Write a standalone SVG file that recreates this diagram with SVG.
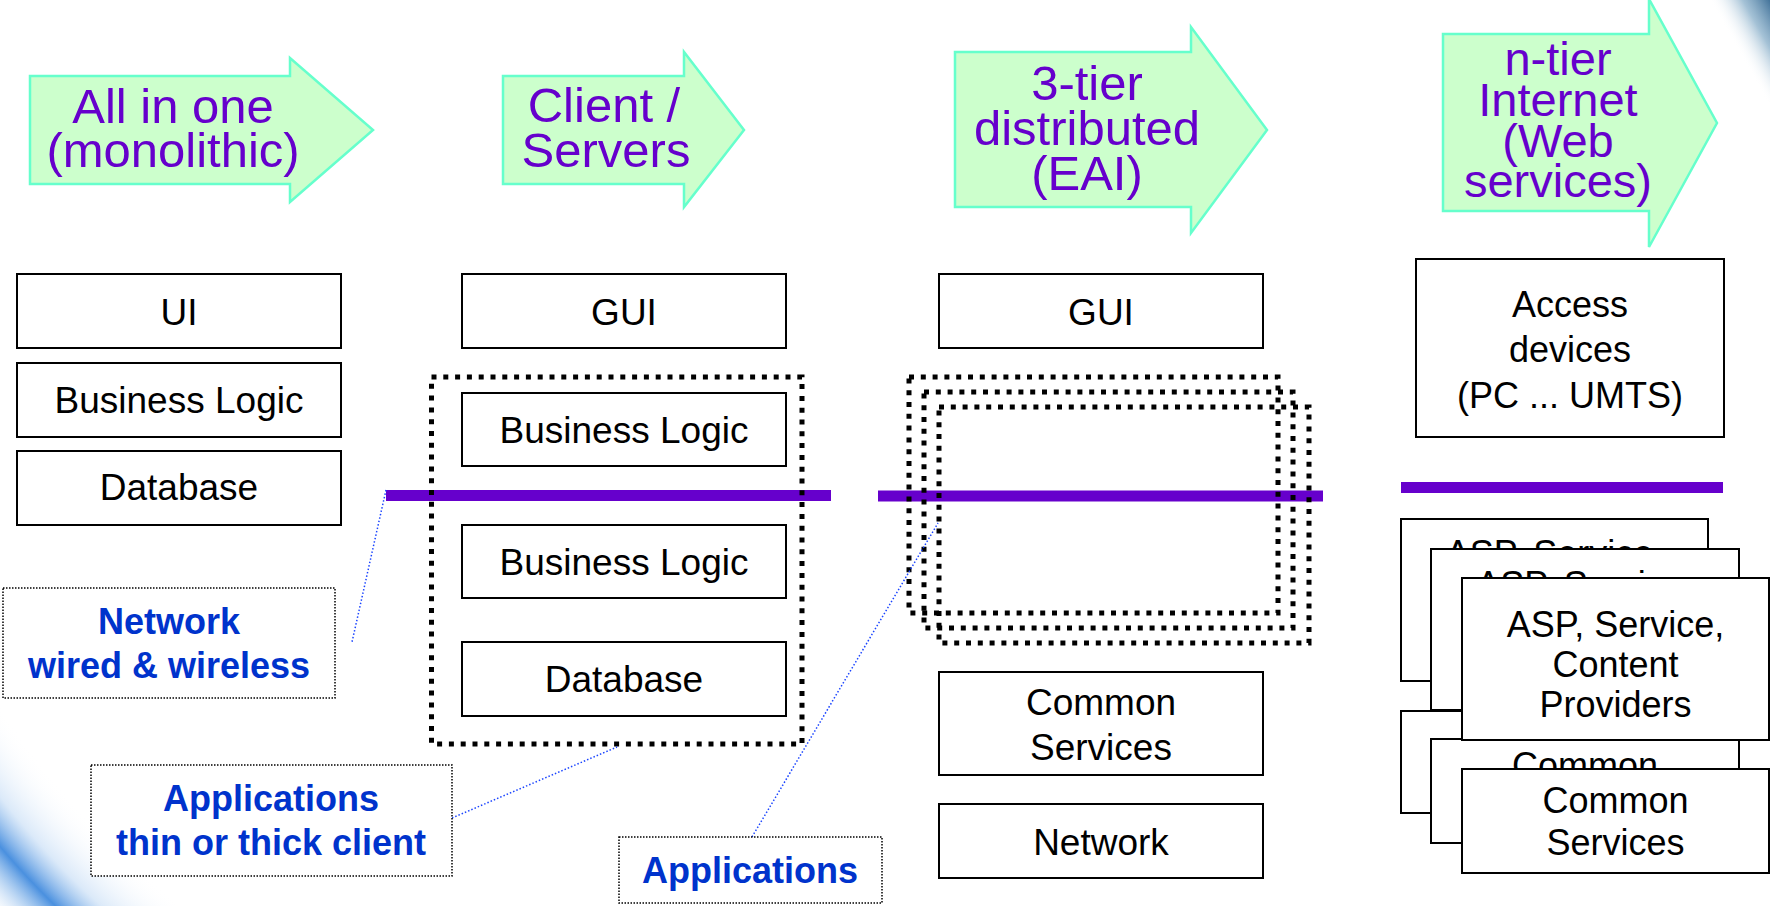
<svg xmlns="http://www.w3.org/2000/svg" width="1770" height="906" viewBox="0 0 1770 906">
  <defs>
    <radialGradient id="swooshBL" gradientUnits="userSpaceOnUse" cx="700" cy="250" r="960">
      <stop offset="0" stop-color="#ffffff" stop-opacity="0"/>
      <stop offset="0.87" stop-color="#ffffff" stop-opacity="0"/>
      <stop offset="0.925" stop-color="#c3dbf5" stop-opacity="0.6"/>
      <stop offset="0.958" stop-color="#4a90df"/>
      <stop offset="0.98" stop-color="#9dc4ee" stop-opacity="0.7"/>
      <stop offset="1" stop-color="#e6f0fb" stop-opacity="0.4"/>
    </radialGradient>
    <linearGradient id="swooshTR" gradientUnits="userSpaceOnUse" x1="1770" y1="0" x2="1724" y2="26">
      <stop offset="0" stop-color="#43739a"/>
      <stop offset="0.45" stop-color="#86adc8" stop-opacity="0.75"/>
      <stop offset="1" stop-color="#ffffff" stop-opacity="0"/>
    </linearGradient>
    <style>
      .arrow { fill: #ccffcc; stroke: #66ffcc; stroke-width: 2.5; stroke-linejoin: miter; }
      .atxt { font-family: "Liberation Sans", Arial, sans-serif; font-size: 49px; fill: #6600cc; text-anchor: middle; }
      .box { fill: #ffffff; stroke: #000000; stroke-width: 2; }
      .btxt { font-family: "Liberation Sans", Arial, sans-serif; font-size: 37px; fill: #000000; text-anchor: middle; }
      .stxt { font-family: "Liberation Sans", Arial, sans-serif; font-size: 36px; fill: #000000; text-anchor: middle; }
      .group { fill: none; stroke: #000000; stroke-width: 5; stroke-dasharray: 5 6.8; }
      .net { stroke: #6600cc; stroke-width: 11; fill: none; }
      .note { fill: #ffffff; stroke: #000000; stroke-width: 1.5; stroke-dasharray: 1.5 1.5; }
      .ntxt { font-family: "Liberation Sans", Arial, sans-serif; font-size: 36px; font-weight: bold; fill: #0033cc; text-anchor: middle; }
      .link { stroke: #1a44ff; stroke-width: 1.5; stroke-dasharray: 1.5 2; fill: none; }
    </style>
  </defs>

  <rect width="1770" height="906" fill="#ffffff"/>

  <!-- corner decorations -->
  <rect x="0" y="620" width="240" height="286" fill="url(#swooshBL)"/>
  <path d="M1690,0 L1770,0 L1770,130 Z" fill="url(#swooshTR)"/>

  <!-- evolution arrows -->
  <g id="arrow-monolithic">
    <polygon class="arrow" points="30,76 290,76 290,58 373,130 290,202 290,184 30,184"/>
    <text class="atxt" x="173" y="123">All in one</text>
    <text class="atxt" x="173" y="167">(monolithic)</text>
  </g>
  <g id="arrow-client-server">
    <polygon class="arrow" points="503,76 684,76 684,52 744,130 684,207 684,184 503,184"/>
    <text class="atxt" x="604" y="122">Client /</text>
    <text class="atxt" x="606" y="167">Servers</text>
  </g>
  <g id="arrow-3tier">
    <polygon class="arrow" points="955,52 1191,52 1191,27 1267,130 1191,233 1191,207 955,207"/>
    <text class="atxt" x="1087" y="100">3-tier</text>
    <text class="atxt" x="1087" y="145">distributed</text>
    <text class="atxt" x="1087" y="190">(EAI)</text>
  </g>
  <g id="arrow-ntier">
    <polygon class="arrow" points="1443,34 1649,34 1649,-1 1717,123 1649,247 1649,211 1443,211"/>
    <text class="atxt" x="1558" y="75" style="font-size:47px">n-tier</text>
    <text class="atxt" x="1558" y="116" style="font-size:47px">Internet</text>
    <text class="atxt" x="1558" y="157" style="font-size:47px">(Web</text>
    <text class="atxt" x="1558" y="197" style="font-size:47px">services)</text>
  </g>

  <!-- network bars -->
  <g id="network-bars">
    <line class="net" x1="386" y1="495.5" x2="831" y2="495.5"/>
    <line class="net" x1="878" y1="496" x2="1323" y2="496"/>
    <line class="net" x1="1401" y1="487.5" x2="1723" y2="487.5"/>
  </g>

  <!-- column 1: monolithic -->
  <g id="col1-ui">
    <rect class="box" x="17" y="274" width="324" height="74"/>
    <text class="btxt" x="179" y="325">UI</text>
  </g>
  <g id="col1-logic">
    <rect class="box" x="17" y="363" width="324" height="74"/>
    <text class="btxt" x="179" y="413">Business Logic</text>
  </g>
  <g id="col1-db">
    <rect class="box" x="17" y="451" width="324" height="74"/>
    <text class="btxt" x="179" y="500">Database</text>
  </g>

  <!-- column 2: client / server -->
  <g id="col2-gui">
    <rect class="box" x="462" y="274" width="324" height="74"/>
    <text class="btxt" x="624" y="325">GUI</text>
  </g>
  <g id="col2-logic-client">
    <rect class="box" x="462" y="393" width="324" height="73"/>
    <text class="btxt" x="624" y="443">Business Logic</text>
  </g>
  <g id="col2-logic-server">
    <rect class="box" x="462" y="525" width="324" height="73"/>
    <text class="btxt" x="624" y="575">Business Logic</text>
  </g>
  <g id="col2-db">
    <rect class="box" x="462" y="642" width="324" height="74"/>
    <text class="btxt" x="624" y="692">Database</text>
  </g>
  <g id="col2-apps">
    <rect class="group" x="431.5" y="377" width="370.5" height="367"/>
  </g>

  <!-- column 3: 3-tier -->
  <g id="col3-gui">
    <rect class="box" x="939" y="274" width="324" height="74"/>
    <text class="btxt" x="1101" y="325">GUI</text>
  </g>
  <g id="col3-apps">
    <rect class="group" x="909" y="377" width="369" height="236"/>
    <rect class="group" x="924" y="392" width="369" height="236"/>
    <rect class="group" x="939" y="407" width="370" height="236"/>
  </g>
  <g id="col3-common">
    <rect class="box" x="939" y="672" width="324" height="103"/>
    <text class="btxt" x="1101" y="715">Common</text>
    <text class="btxt" x="1101" y="760">Services</text>
  </g>
  <g id="col3-network">
    <rect class="box" x="939" y="804" width="324" height="74"/>
    <text class="btxt" x="1101" y="855">Network</text>
  </g>

  <!-- column 4: n-tier -->
  <g id="col4-access">
    <rect class="box" x="1416" y="259" width="308" height="178"/>
    <text class="stxt" x="1570" y="317">Access</text>
    <text class="stxt" x="1570" y="362">devices</text>
    <text class="stxt" x="1570" y="408">(PC ... UMTS)</text>
  </g>
  <g id="col4-providers-1">
    <rect class="box" x="1401" y="519" width="307" height="162"/>
    <text class="stxt" x="1554.5" y="566">ASP, Service,</text>
    <text class="stxt" x="1554.5" y="606">Content</text>
    <text class="stxt" x="1554.5" y="646">Providers</text>
  </g>
  <g id="col4-providers-2">
    <rect class="box" x="1431" y="549" width="308" height="161"/>
    <text class="stxt" x="1585" y="597">ASP, Service,</text>
    <text class="stxt" x="1585" y="637">Content</text>
    <text class="stxt" x="1585" y="677">Providers</text>
  </g>
  <g id="col4-common-1">
    <rect class="box" x="1401" y="711" width="307" height="102"/>
    <text class="stxt" x="1554.5" y="750">Common</text>
    <text class="stxt" x="1554.5" y="792">Services</text>
  </g>
  <g id="col4-common-2">
    <rect class="box" x="1431" y="739" width="308" height="104"/>
    <text class="stxt" x="1585" y="778">Common</text>
    <text class="stxt" x="1585" y="820">Services</text>
  </g>
  <g id="col4-providers-3">
    <rect class="box" x="1462" y="578" width="307" height="162"/>
    <text class="stxt" x="1615.5" y="637">ASP, Service,</text>
    <text class="stxt" x="1615.5" y="677">Content</text>
    <text class="stxt" x="1615.5" y="717">Providers</text>
  </g>
  <g id="col4-common-3">
    <rect class="box" x="1462" y="769" width="307" height="104"/>
    <text class="stxt" x="1615.5" y="813">Common</text>
    <text class="stxt" x="1615.5" y="855">Services</text>
  </g>

  <!-- callout connectors -->
  <g id="connectors">
    <line class="link" x1="386" y1="490" x2="352" y2="642"/>
    <line class="link" x1="452" y1="818" x2="617" y2="747"/>
    <line class="link" x1="752" y1="837" x2="938" y2="523"/>
  </g>

  <!-- callout notes -->
  <g id="note-network">
    <rect class="note" x="3" y="588" width="332" height="110"/>
    <text class="ntxt" x="169" y="634">Network</text>
    <text class="ntxt" x="169" y="678">wired &amp; wireless</text>
  </g>
  <g id="note-apps-client">
    <rect class="note" x="91" y="765" width="361" height="111"/>
    <text class="ntxt" x="271" y="811">Applications</text>
    <text class="ntxt" x="271" y="855">thin or thick client</text>
  </g>
  <g id="note-apps">
    <rect class="note" x="619" y="837" width="263" height="66"/>
    <text class="ntxt" x="750" y="883">Applications</text>
  </g>
</svg>
